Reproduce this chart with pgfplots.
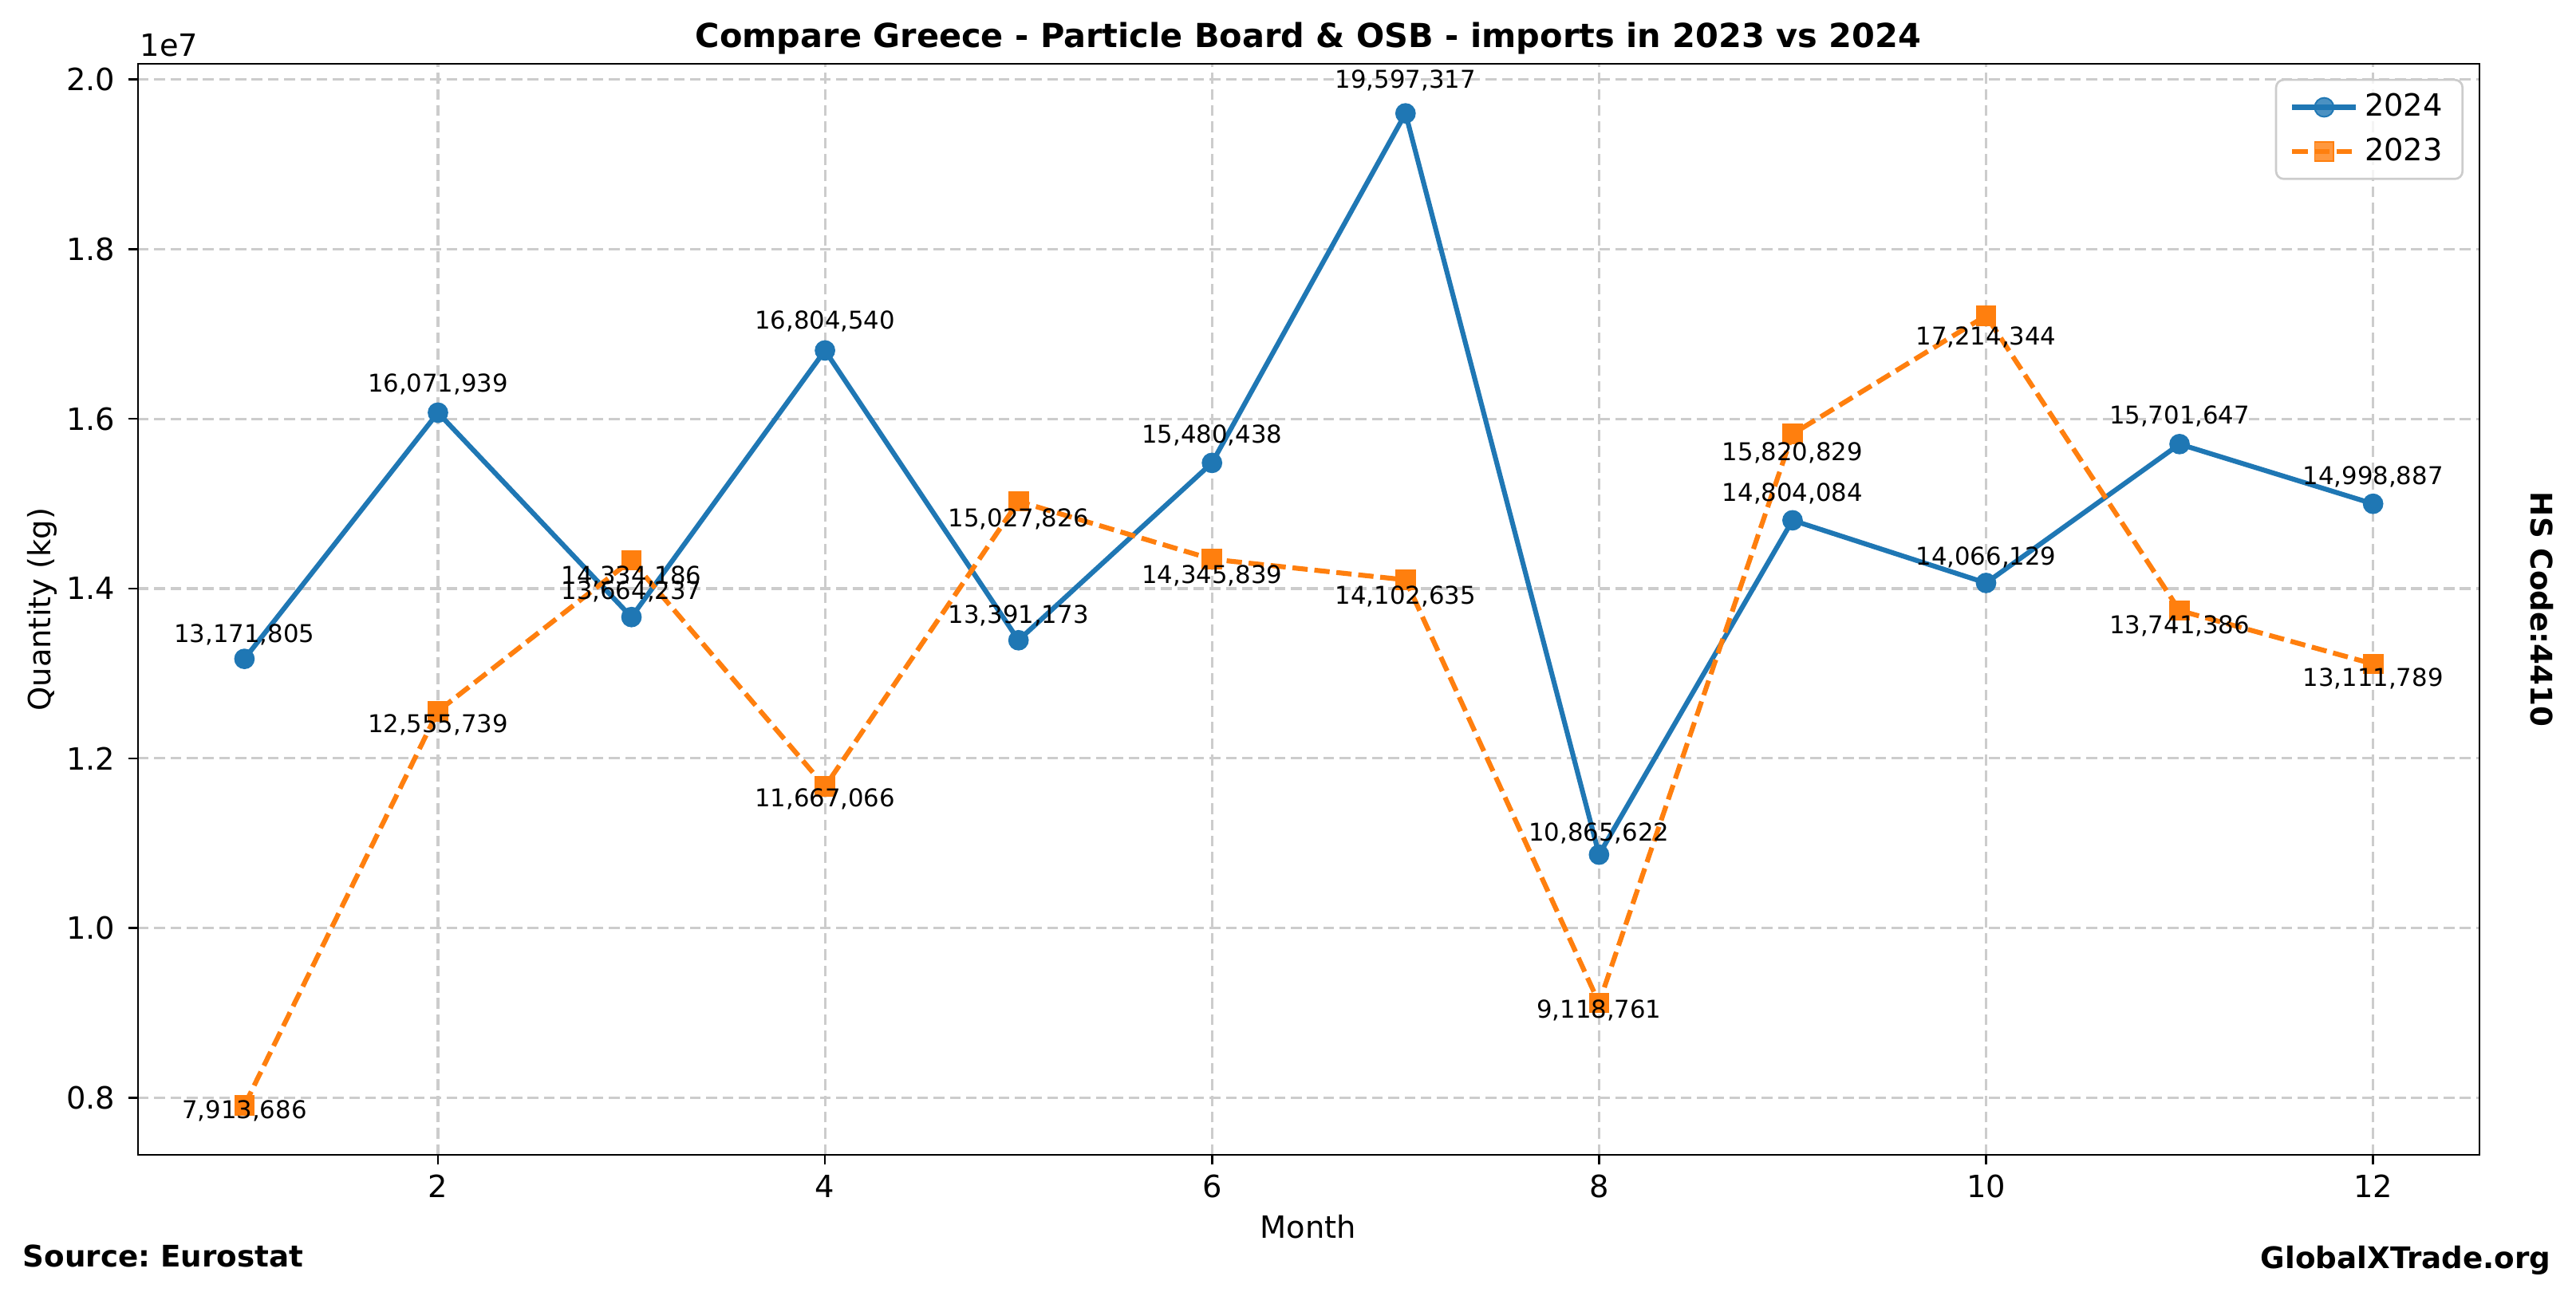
\documentclass[border=0pt]{standalone}
\usepackage{fontspec}
\setmainfont{DejaVu Sans}
\usepackage{pgfplots}
\pgfplotsset{compat=1.18}
\usepackage{pgfplotstable}
\frenchspacing

\definecolor{c24}{HTML}{1F77B4}
\definecolor{c23}{HTML}{FF7F0E}
\definecolor{gridc}{HTML}{CCCCCC}

% monthly imports, kg
\pgfplotstableread{
month q2024 q2023
1  13171805 7913686
2  16071939 12555739
3  13664237 14334186
4  16804540 11667066
5  13391173 15027826
6  15480438 14345839
7  19597317 14102635
8  10865622 9118761
9  14804084 15820829
10 14066129 17214344
11 15701647 13741386
12 14998887 13111789
}\imports

% label anchors: 2024 at 1.015*y, 2023 at 0.98*y
\pgfplotstableread{
month y lab
1  13369382 13,171,805
2  16313018 16,071,939
3  13869201 13,664,237
4  17056608 16,804,540
5  13592041 13,391,173
6  15712645 15,480,438
7  19891277 19,597,317
8  11028606 10,865,622
9  15026145 14,804,084
10 14277121 14,066,129
11 15937172 15,701,647
12 15223870 14,998,887
}\labA
\pgfplotstableread{
month y lab
1  7755412  7,913,686
2  12304624 12,555,739
3  14047502 14,334,186
4  11433725 11,667,066
5  14727269 15,027,826
6  14058922 14,345,839
7  13820582 14,102,635
8  8936386  9,118,761
9  15504412 15,820,829
10 16870057 17,214,344
11 13466558 13,741,386
12 12849553 13,111,789
}\labB

\begin{document}
\begin{tikzpicture}
\path[use as bounding box] (-45.05pt,-45.83pt) rectangle (795.8pt,377.08pt);
\begin{axis}[
  width=764.3pt, height=356.25pt, scale only axis,
  xmin=0.45, xmax=12.55, ymin=7329504, ymax=20181499,
  clip=false,
  xtick={2,4,6,8,10,12}, xticklabels={2,4,6,8,10,12},
  ytick={8000000,10000000,12000000,14000000,16000000,18000000,20000000},
  yticklabels={0.8,1.0,1.2,1.4,1.6,1.8,2.0},
  scaled y ticks=false,
  /pgf/number format/assume math mode=true,
  tick align=outside, tick pos=left, major tick length=3.2pt,
  every tick/.style={black, line width=0.7pt},
  axis line style={line width=0.7pt},
  grid=major,
  major grid style={gridc, line width=0.8pt, dash pattern=on 3.5pt off 1.8pt},
  tick label style={font=\fontsize{10}{12}\selectfont},
  xticklabel style={anchor=base, yshift=-10.6pt, inner sep=0pt},
  yticklabel style={anchor=east, xshift=-4.1pt, inner sep=0pt},
  legend style={at={(1,1)}, anchor=north east, xshift=-5.2pt, yshift=-4.9pt,
    draw=gridc, line width=0.7pt, rounded corners=2.5pt,
    fill=white, fill opacity=0.8, draw opacity=1, text opacity=1,
    font=\fontsize{10}{12}\selectfont, inner xsep=4.5pt, inner ysep=2.5pt, row sep=1.5pt},
  legend cell align=left,
  legend image code/.code={\draw[mark repeat=2, mark phase=2, #1]
    plot coordinates {(0pt,0pt) (10.4pt,0pt) (20.8pt,0pt)};},
]
\addplot[c24, line width=1.6pt, mark=*, mark size=3.1pt,
  mark options={solid, line width=0.5pt, fill=c24}]
  table[x=month, y=q2024] {\imports};
\addlegendentry{2024}
\addplot[c23, line width=1.6pt, dash pattern=on 5pt off 2.2pt, mark=square*, mark size=3.1pt,
  mark options={solid, line width=0.5pt, fill=c23}]
  table[x=month, y=q2023] {\imports};
\addlegendentry{2023}
\addplot[draw=none, mark=none, forget plot, nodes near coords, point meta=explicit symbolic,
  nodes near coords style={anchor=base, inner sep=0pt, text=black, font=\fontsize{8}{9.6}\selectfont}]
  table[x=month, y=y, meta=lab] {\labA};
\addplot[draw=none, mark=none, forget plot, nodes near coords, point meta=explicit symbolic,
  nodes near coords style={anchor=base, inner sep=0pt, text=black, font=\fontsize{8}{9.6}\selectfont}]
  table[x=month, y=y, meta=lab] {\labB};
\end{axis}
\node[anchor=base, inner sep=0pt, font=\bfseries\fontsize{10.8}{13}\selectfont]
  at (382pt,361.7pt) {Compare Greece - Particle Board \& OSB - imports in 2023 vs 2024};
\node[anchor=base west, inner sep=0pt, font=\fontsize{10}{12}\selectfont] at (0.5pt,358.6pt) {1e7};
\node[anchor=base, inner sep=0pt, font=\fontsize{10}{12}\selectfont] at (382pt,-27.3pt) {Month};
\node[rotate=90, inner sep=0pt, font=\fontsize{10}{12}\selectfont] at (-31.2pt,178.1pt) {Quantity (kg)};
\node[rotate=-90, inner sep=0pt, font=\bfseries\fontsize{9.7}{12}\selectfont] at (784.6pt,178.1pt) {HS Code:4410};
\node[anchor=base west, inner sep=0pt, font=\bfseries\fontsize{9.7}{12}\selectfont] at (-37.76pt,-36.7pt) {Source: Eurostat};
\node[anchor=base east, inner sep=0pt, font=\bfseries\fontsize{9.7}{12}\selectfont] at (787.8pt,-37pt) {GlobalXTrade.org};
\end{tikzpicture}
\end{document}
